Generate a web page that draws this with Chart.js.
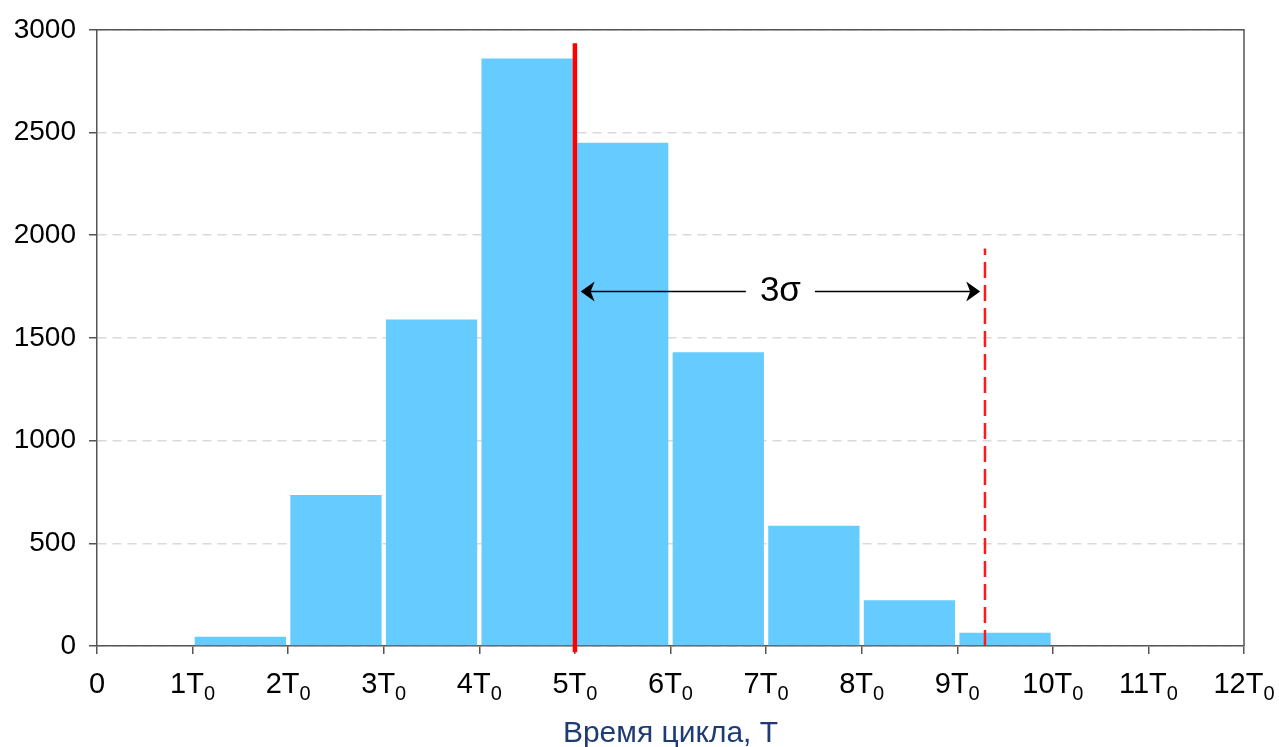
<!DOCTYPE html>
<html>
<head>
<meta charset="utf-8">
<script src="https://cdn.jsdelivr.net/npm/chart.js@4/dist/chart.umd.min.js"></script>
<style>
  html, body { margin: 0; padding: 0; background: #ffffff; }
  #wrap { width: 1279px; height: 747px; }
</style>
</head>
<body>
<div id="wrap"><canvas id="c" width="1279" height="747"></canvas></div>
<script>
// ---- data ----
const binStarts = [1, 2, 3, 4, 5, 6, 7, 8, 9];
const counts = [45, 735, 1590, 2860, 2450, 1430, 585, 223, 65];
const yTickValues = [0, 500, 1000, 1500, 2000, 2500, 3000];
const xTickValues = [0, 1, 2, 3, 4, 5, 6, 7, 8, 9, 10, 11, 12];
const xTickMain = ['0', '1T', '2T', '3T', '4T', '5T', '6T', '7T', '8T', '9T', '10T', '11T', '12T'];
const xTickSub = ['', '0', '0', '0', '0', '0', '0', '0', '0', '0', '0', '0', '0'];
const meanX = [5, 5];
const meanY = [-30, 2935];
const limitX = [9.29, 9.29];
const limitY = [0, 1935];
const sigmaArrow = { y: 1726, from: 5.06, to: 9.24, label: '3σ' };
const xTitle = 'Время цикла, T';

const FONT = "'Liberation Sans', Arial, sans-serif";

const boxPlugin = {
  id: 'boxAndLabels',
  afterDraw(chart) {
    const { ctx, chartArea: a, scales } = chart;
    const xs = scales.x, ys = scales.y;
    ctx.save();
    // plot frame (top and right)
    ctx.strokeStyle = '#555555';
    ctx.lineWidth = 1.5;
    ctx.beginPath();
    ctx.moveTo(a.left, a.top);
    ctx.lineTo(a.right, a.top);
    ctx.lineTo(a.right, a.bottom);
    ctx.stroke();

    // x tick labels with subscript
    ctx.fillStyle = '#000000';
    ctx.textBaseline = 'alphabetic';
    ctx.textAlign = 'left';
    xTickValues.forEach((v, i) => {
      const px = xs.getPixelForValue(v);
      ctx.font = '29px ' + FONT;
      const wm = ctx.measureText(xTickMain[i]).width;
      ctx.font = '20px ' + FONT;
      const wsub = xTickSub[i] ? ctx.measureText(xTickSub[i]).width : 0;
      const start = px - (wm + wsub) / 2;
      ctx.font = '29px ' + FONT;
      ctx.fillText(xTickMain[i], start, 693);
      if (xTickSub[i]) {
        ctx.font = '20px ' + FONT;
        ctx.fillText(xTickSub[i], start + wm, 700);
      }
    });

    // 3 sigma arrow
    const y = ys.getPixelForValue(sigmaArrow.y);
    const x0 = xs.getPixelForValue(sigmaArrow.from);
    const x1 = xs.getPixelForValue(sigmaArrow.to);
    const xm = (x0 + x1) / 2;
    ctx.font = '35px ' + FONT;
    ctx.textAlign = 'center';
    ctx.textBaseline = 'middle';
    const tw = ctx.measureText(sigmaArrow.label).width;
    ctx.fillStyle = '#000000';
    ctx.fillText(sigmaArrow.label, xm, y);
    const gap = 14;
    ctx.strokeStyle = '#000000';
    ctx.lineWidth = 1.5;
    ctx.beginPath();
    ctx.moveTo(x0 + 8, y);
    ctx.lineTo(xm - tw / 2 - gap, y);
    ctx.moveTo(xm + tw / 2 + gap, y);
    ctx.lineTo(x1 - 8, y);
    ctx.stroke();
    const head = (tx, dir) => {
      ctx.beginPath();
      ctx.moveTo(tx, y);
      ctx.lineTo(tx + dir * 14, y - 10);
      ctx.lineTo(tx + dir * 10, y);
      ctx.lineTo(tx + dir * 14, y + 10);
      ctx.closePath();
      ctx.fillStyle = '#000000';
      ctx.fill();
    };
    head(x0, 1);
    head(x1, -1);
    ctx.restore();
  }
};

new Chart(document.getElementById('c'), {
  type: 'bar',
  data: {
    datasets: [
      {
        type: 'line',
        data: meanX.map((x, i) => ({ x: x, y: meanY[i] })),
        borderColor: '#FF0000',
        borderWidth: 4.5,
        pointRadius: 0,
        fill: false,
        clip: false,
        order: 1
      },
      {
        type: 'line',
        data: limitX.map((x, i) => ({ x: x, y: limitY[i] })),
        borderColor: '#FF1A1A',
        borderWidth: 2.5,
        borderDash: [16, 7],
        pointRadius: 0,
        fill: false,
        order: 1
      },
      {
        type: 'bar',
        data: binStarts.map((s, i) => ({ x: s + 0.5, y: counts[i] })),
        backgroundColor: '#66CCFF',
        borderWidth: 0,
        barPercentage: 0.955,
        categoryPercentage: 1,
        order: 2
      }
    ]
  },
  options: {
    responsive: false,
    animation: false,
    devicePixelRatio: 1,
    layout: { padding: { left: 0, right: 35, top: 27, bottom: 0 } },
    plugins: { legend: { display: false }, tooltip: { enabled: false } },
    scales: {
      x: {
        type: 'linear',
        min: 0,
        max: 12,
        offset: false,
        ticks: { stepSize: 1, callback: () => '', maxRotation: 0, autoSkip: false },
        grid: { display: true, drawOnChartArea: false, drawTicks: true, tickLength: 8, color: '#555555', lineWidth: 1.5, offset: false },
        border: { display: true, color: '#555555', width: 1.5 },
        title: {
          display: true,
          text: xTitle,
          color: '#1F3B73',
          font: { family: FONT, size: 30, lineHeight: 1.0 },
          padding: { top: 0, bottom: -2 }
        },
        afterFit: (s) => { s.height = 101; }
      },
      y: {
        min: 0,
        max: 3000,
        afterBuildTicks: (s) => { s.ticks = yTickValues.map(v => ({ value: v })); },
        ticks: { color: '#000000', font: { family: FONT, size: 28 }, padding: 13, callback: (v) => String(v) },
        grid: { color: '#D9D9D9', lineWidth: 1.5, drawTicks: true, tickLength: 8, tickColor: '#555555', tickWidth: 1.5 },
        border: { display: true, color: '#555555', width: 1.5, dash: [9, 6] },
        afterFit: (s) => { s.width = 97; }
      }
    }
  },
  plugins: [boxPlugin]
});
</script>
</body>
</html>
